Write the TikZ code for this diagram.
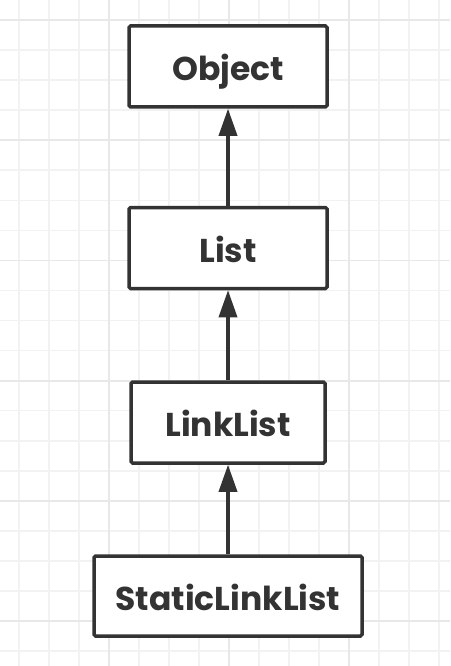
\documentclass[tikz,border=0pt]{standalone}
\usepackage{fontspec}
\setmainfont{Poppins}
\usetikzlibrary{arrows.meta}
\definecolor{ink}{HTML}{333333}
\definecolor{gminor}{HTML}{F2F2F2}
\definecolor{gmajor}{HTML}{E8E8E8}
\begin{document}
\begin{tikzpicture}[x=1pt,y=-1pt,
  classbox/.style={draw=ink, line width=3.5pt, rounded corners=1.5pt, fill=white,
    minimum height=81pt, inner sep=0pt, text height=30pt, text depth=2pt,
    text=ink, font=\fontsize{33}{36}\selectfont\bfseries},
  inherit/.style={draw=ink, line width=3.5pt, -{Triangle[length=27pt,width=18pt]}},
  minorline/.style={draw=gminor, line width=1.6pt},
  majorline/.style={draw=gmajor, line width=1.8pt}]
\useasboundingbox (0,0) rectangle (450,666);
\fill[white] (0,0) rectangle (450,666);
\foreach \x in {19,49,...,439} \draw[minorline] (\x,0) -- (\x,666);
\foreach \i in {0,...,21} \draw[minorline] (0,20+30.05*\i) -- (450,20+30.05*\i);
\foreach \x in {109,229,349} \draw[majorline] (\x,0) -- (\x,666);
\foreach \i in {0,...,5} \draw[majorline] (0,20+120.2*\i) -- (450,20+120.2*\i);
\node[classbox, minimum width=198pt] (object) at (228,66.5) {Object};
\node[classbox, minimum width=198pt] (list) at (228,248) {List};
\node[classbox, minimum width=194pt] (linklist) at (228,422.5) {LinkList};
\node[classbox, minimum width=268pt, minimum height=80pt] (static) at (228,596) {StaticLinkList};
\draw[inherit] (list.north) -- (object.south);
\draw[inherit] (linklist.north) -- (list.south);
\draw[inherit] (static.north) -- (linklist.south);
\end{tikzpicture}
\end{document}
